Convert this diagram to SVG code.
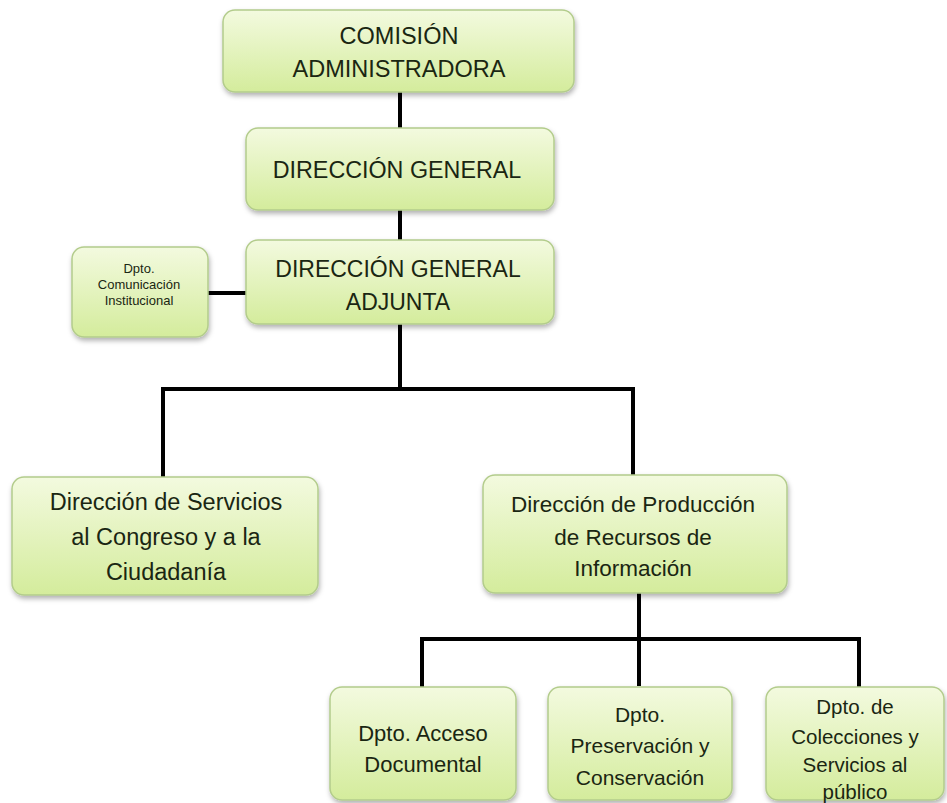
<svg xmlns="http://www.w3.org/2000/svg" width="947" height="803" viewBox="0 0 947 803">
<defs>
<linearGradient id="g" x1="0" y1="0" x2="0" y2="1">
<stop offset="0" stop-color="#f3fadf"/>
<stop offset="1" stop-color="#d4ec9c"/>
</linearGradient>
<filter id="sh" x="-10%" y="-10%" width="125%" height="130%">
<feDropShadow dx="1" dy="3" stdDeviation="2.5" flood-color="#000" flood-opacity="0.3"/>
</filter>
</defs>
<style>
.box{fill:url(#g);stroke:#b3cc8c;stroke-width:1.5;filter:url(#sh)}
text{font-family:"Liberation Sans",Arial,sans-serif;fill:#1a2612;text-anchor:middle}
.c{fill:none;stroke:#000;stroke-width:4}
</style>
<rect width="947" height="803" fill="#fff"/>
<g id="connectors">
<path class="c" d="M400 92V128"/>
<path class="c" d="M400 210V240"/>
<path class="c" d="M208 293H246"/>
<path class="c" d="M400 324V389"/>
<path class="c" d="M163 478V389H633V476"/>
<path class="c" d="M639 593V686"/>
<path class="c" d="M422 687V639H859V687"/>
</g>
<g id="comision">
<rect class="box" x="223" y="10" width="351" height="82" rx="12"/>
<text x="399" y="44" font-size="23.5">COMISIÓN</text>
<text x="399" y="77" font-size="23.5">ADMINISTRADORA</text>
</g>
<g id="direccion-general">
<rect class="box" x="246" y="128" width="308" height="82" rx="12"/>
<text x="397" y="178" font-size="23.3">DIRECCIÓN GENERAL</text>
</g>
<g id="direccion-adjunta">
<rect class="box" x="246" y="240" width="308" height="84" rx="12"/>
<text x="398" y="277" font-size="23">DIRECCIÓN GENERAL</text>
<text x="398" y="310" font-size="23">ADJUNTA</text>
</g>
<g id="comunicacion">
<rect class="box" x="72" y="247" width="136" height="90" rx="12"/>
<text x="139" y="273" font-size="13">Dpto.</text>
<text x="139" y="289" font-size="13">Comunicación</text>
<text x="139" y="305" font-size="13">Institucional</text>
</g>
<g id="servicios">
<rect class="box" x="12" y="477" width="306" height="118" rx="12"/>
<text x="166" y="510" font-size="23.5">Dirección  de Servicios</text>
<text x="166" y="545" font-size="23.5">al Congreso  y a la</text>
<text x="166" y="580" font-size="23.5">Ciudadanía</text>
</g>
<g id="produccion">
<rect class="box" x="483" y="475" width="304" height="118" rx="12"/>
<text x="633" y="512" font-size="22.5">Dirección de Producción</text>
<text x="633" y="545" font-size="22.5">de Recursos de</text>
<text x="633" y="576" font-size="22.5">Información</text>
</g>
<g id="acceso">
<rect class="box" x="330" y="687" width="186" height="113" rx="12"/>
<text x="423" y="741" font-size="22">Dpto. Acceso</text>
<text x="423" y="772" font-size="22">Documental</text>
</g>
<g id="preservacion">
<rect class="box" x="548" y="687" width="184" height="113" rx="12"/>
<text x="640" y="722" font-size="21">Dpto.</text>
<text x="640" y="753" font-size="21">Preservación y</text>
<text x="640" y="785" font-size="21">Conservación</text>
</g>
<g id="colecciones">
<rect class="box" x="766" y="687" width="178" height="113" rx="12"/>
<text x="855" y="714" font-size="20.5">Dpto. de</text>
<text x="855" y="744" font-size="20.5">Colecciones y</text>
<text x="855" y="772" font-size="20.5">Servicios al</text>
<text x="855" y="799" font-size="20.5">público</text>
</g>
</svg>
